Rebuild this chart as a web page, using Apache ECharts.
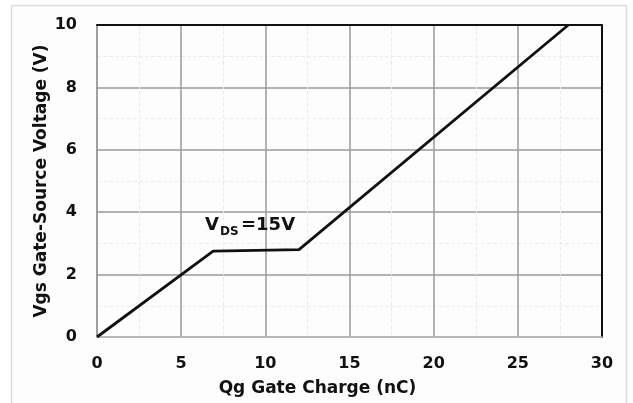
<!DOCTYPE html>
<html>
<head>
<meta charset="utf-8">
<script src="https://cdn.jsdelivr.net/npm/echarts@6/dist/echarts.min.js"></script>
<style>
  html, body { margin: 0; padding: 0; background: #fff; }
  #chart { width: 633px; height: 403px; }
</style>
</head>
<body>
<div id="chart"></div>
<script>
// 栅电荷曲线数据
const qgCharge = [0, 6.9, 12, 28];
const vgsVoltage = [0, 2.75, 2.8, 10];
const xRange = [0, 30];
const yRange = [0, 10];
const curveLabel = ['V', 'DS', '=15V'];

const FONT = '"DejaVu Sans", Arial, sans-serif';

const chart = echarts.init(document.getElementById('chart'));

const option = {
  backgroundColor: '#fff',
  animation: false,
  grid: { left: 97, right: 31, top: 25, bottom: 66 },
  xAxis: [
    {
      type: 'value',
      min: xRange[0],
      max: xRange[1],
      interval: 5,
      name: 'Qg Gate Charge (nC)',
      nameLocation: 'middle',
      nameGap: 43,
      nameTextStyle: {
        fontFamily: FONT, fontWeight: 'bold', fontSize: 17, color: '#111',
        padding: [0, 64, 0, 0],
      },
      axisLine: { show: true, onZero: false, lineStyle: { color: '#bbb', width: 1.5 } },
      axisTick: { show: false },
      axisLabel: { fontFamily: FONT, fontWeight: 'bold', fontSize: 16, color: '#111', margin: 19 },
      splitLine: { show: true, lineStyle: { color: '#999', width: 1.5 } },
      minorTick: { show: false, splitNumber: 2 },
      minorSplitLine: { show: true, lineStyle: { color: '#ececec', type: 'dashed', width: 1 } },
    },
    {
      type: 'value', position: 'top', min: xRange[0], max: xRange[1],
      axisLine: { show: true, onZero: false, lineStyle: { color: '#111', width: 2 } },
      axisTick: { show: false }, axisLabel: { show: false }, splitLine: { show: false },
    },
  ],
  yAxis: [
    {
      type: 'value',
      min: yRange[0],
      max: yRange[1],
      interval: 2,
      name: 'Vgs Gate-Source Voltage (V)',
      nameLocation: 'middle',
      nameGap: 47,
      nameMoveOverlap: false,
      nameTextStyle: { fontFamily: FONT, fontWeight: 'bold', fontSize: 17, color: '#111' },
      axisLine: { show: true, onZero: false, lineStyle: { color: '#999', width: 1.5 } },
      axisTick: { show: false },
      axisLabel: { fontFamily: FONT, fontWeight: 'bold', fontSize: 16, color: '#111', margin: 20 },
      splitLine: { show: true, lineStyle: { color: '#999', width: 1.5 } },
      minorTick: { show: false, splitNumber: 2 },
      minorSplitLine: { show: true, lineStyle: { color: '#ececec', type: 'dashed', width: 1 } },
    },
    {
      type: 'value', position: 'right', min: yRange[0], max: yRange[1],
      axisLine: { show: true, onZero: false, lineStyle: { color: '#111', width: 2 } },
      axisTick: { show: false }, axisLabel: { show: false }, splitLine: { show: false },
    },
  ],
  graphic: [
    // 外框
    {
      type: 'rect', silent: true, z: -10,
      shape: { x: 11.5, y: 5.5, width: 615, height: 410 },
      style: { fill: '#fdfdfd', stroke: '#dcdcdc', lineWidth: 1.5 },
    },
    {
      type: 'text', left: 205, top: 216, z: 10,
      style: { text: curveLabel[0], font: 'bold 18px ' + FONT, fill: '#111' },
    },
    {
      type: 'text', left: 220, top: 226, z: 10,
      style: { text: curveLabel[1], font: 'bold 12px ' + FONT, fill: '#111' },
    },
    {
      type: 'text', left: 241, top: 216, z: 10,
      style: { text: curveLabel[2], font: 'bold 18px ' + FONT, fill: '#111' },
    },
  ],
  series: [
    {
      type: 'line',
      xAxisIndex: 0,
      yAxisIndex: 0,
      data: qgCharge.map((q, i) => [q, vgsVoltage[i]]),
      symbol: 'none',
      lineStyle: { color: '#111', width: 2.8 },
      z: 5,
    },
  ],
};

chart.setOption(option);
</script>
</body>
</html>
